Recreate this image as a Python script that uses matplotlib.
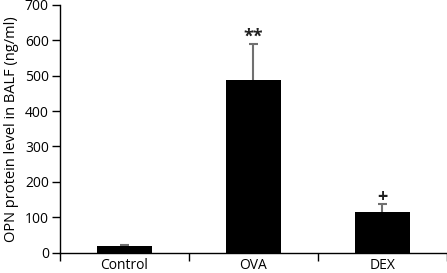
import matplotlib as mpl
import matplotlib.pyplot as plt
import numpy as np

mpl.use("Agg")

groups = ["Control", "OVA", "DEX"]
means = [20, 487, 115]
errors = [1, 103, 23]
marks = ["", "**", "+"]
y_ticks = [0, 100, 200, 300, 400, 500, 600, 700]

plt.rcParams["font.family"] = ["Open Sans", "DejaVu Sans"]

fig = plt.figure(figsize=(4.47, 2.73), dpi=100)
ax = fig.add_axes([0.134, 0.0744, 0.866, 0.9076])

x = np.arange(len(groups))
tops = np.array(means) + np.array(errors)

# upper error bars only, behind the bars
ax.vlines(x, means, tops, color="#707070", linewidth=1.5, zorder=1)
ax.hlines(tops, x - 0.035, x + 0.035, color="#707070", linewidth=1.5, zorder=1)
ax.bar(x, means, width=0.42, color="black", zorder=2)

# significance marks
for xi, t, s in zip(x, tops, marks):
    if s:
        ax.annotate(s, (xi, t), xytext=(0, 5), textcoords="offset points",
                    ha="center", va="center", fontsize=13, fontweight="bold",
                    color="#202020")

ax.set_xlim(-0.5, 2.5)
ax.set_ylim(0, 700)
ax.set_yticks(y_ticks)
ax.set_xticks([-0.5, 0.5, 1.5, 2.5])
ax.set_xticklabels([])
ax.set_xticks(x, minor=True)
ax.set_xticklabels(groups, minor=True)
ax.tick_params(axis="x", which="minor", length=0, pad=4, labelsize=10)
ax.tick_params(axis="x", which="major", length=6, width=1, direction="out")
ax.tick_params(axis="y", length=6, width=1, direction="out", labelsize=10, pad=2)

ax.spines["top"].set_visible(False)
ax.spines["right"].set_visible(False)
ax.spines["left"].set_linewidth(1)
ax.spines["bottom"].set_linewidth(1)

ax.set_ylabel("OPN protein level in BALF (ng/ml)", fontsize=10.5, labelpad=4)

plt.savefig("out.png", dpi=100)
